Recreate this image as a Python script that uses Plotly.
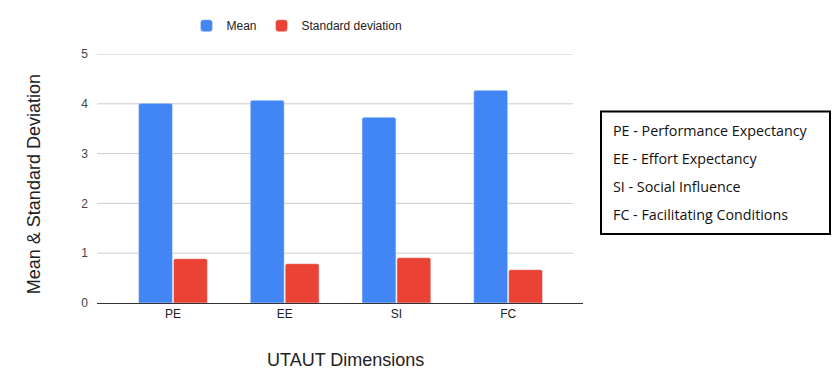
import plotly.graph_objects as go

categories = ["PE", "EE", "SI", "FC"]
mean_values = [4.01, 4.07, 3.73, 4.27]
sd_values = [0.89, 0.79, 0.91, 0.67]
y_ticks = [0, 1, 2, 3, 4, 5]
key_lines = [
    "PE - Performance Expectancy",
    "EE - Effort Expectancy",
    "SI - Social Influence",
    "FC - Facilitating Conditions",
]

W, H = 837, 391
L, R, T, B = 97, 583, 53.3, 303.3
pw, ph = R - L, B - T


def px(x):
    return (x - L) / pw


def py(y):
    return (B - y) / ph


fig = go.Figure()
fig.add_trace(go.Bar(x=categories, y=mean_values, name="Mean", marker_color="#4285F4"))
fig.add_trace(go.Bar(x=categories, y=sd_values, name="Standard deviation", marker_color="#EA4335"))

shapes = []
for v in y_ticks[1:]:
    shapes.append(dict(type="line", xref="paper", yref="y", x0=0, x1=px(573), y0=v, y1=v,
                       line=dict(color="#cccccc", width=1), layer="below"))
shapes.append(dict(type="rect", xref="paper", yref="paper", x0=px(601), x1=px(830),
                   y0=py(234), y1=py(111), line=dict(color="black", width=2)))

annotations = [
    dict(text="UTAUT Dimensions", xref="paper", yref="paper", x=px(345), y=py(361),
         xanchor="center", yanchor="middle",
         showarrow=False, font=dict(size=18, color="#222", family="Liberation Sans, Arial")),
    dict(text="Mean & Standard Deviation", xref="paper", yref="paper", x=px(34), y=py(184),
         xanchor="center", yanchor="middle",
         textangle=-90, showarrow=False, font=dict(size=18, color="#222", family="Liberation Sans, Arial")),
]
for i, line in enumerate(key_lines):
    annotations.append(dict(text=line, xref="paper", yref="paper", x=px(611), y=py(130 + 28.2 * i),
                            xanchor="left", yanchor="middle", showarrow=False,
                            font=dict(size=14.3, color="#111", family="Open Sans, Noto Sans")))

fig.update_layout(
    width=W, height=H,
    margin=dict(l=L, r=W - R, t=T, b=H - B, pad=0),
    paper_bgcolor="white", plot_bgcolor="white",
    barmode="group", bargap=0.375, bargroupgap=0.03, barcornerradius=2,
    font=dict(family="Liberation Sans, Arial", size=12, color="#444"),
    showlegend=True,
    legend=dict(orientation="h", x=px(297), y=py(26), xanchor="center", yanchor="middle",
                font=dict(size=12, color="#222"), itemwidth=30, traceorder="normal"),
    xaxis=dict(range=[-0.68, 3.67], showgrid=False, showline=True, linecolor="#333", linewidth=1,
               ticks="", tickfont=dict(size=12, color="#222")),
    yaxis=dict(range=[0, 5], tickvals=y_ticks, showgrid=False, zeroline=False, showline=False,
               ticks="", ticklabelstandoff=8, tickfont=dict(size=12, color="#444")),
    shapes=shapes,
    annotations=annotations,
)

fig.write_html("out.html", config={"displayModeBar": False},
               post_script="document.body.style.margin='0px';document.body.style.padding='0px';")
